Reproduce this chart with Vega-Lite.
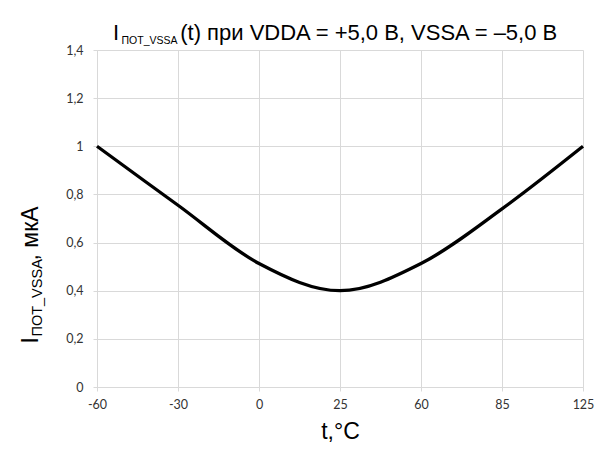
{
  "$schema": "https://vega.github.io/schema/vega-lite/v6.json",
  "width": 486,
  "height": 337,
  "autosize": {"type": "none"},
  "padding": {"left": 97, "top": 50, "right": 16, "bottom": 70},
  "background": "white",
  "config": {
    "locale": {"number": {"decimal": ",", "thousands": " ", "grouping": [3], "currency": ["", ""]}},
    "view": {"stroke": null},
    "font": "Liberation Sans"
  },
  "title": {
    "text": "I\u00a0\u00a0\u00a0\u00a0\u00a0\u00a0\u00a0\u00a0\u00a0\u00a0(t) при VDDA = +5,0 В, VSSA = –5,0 В",
    "anchor": "start",
    "frame": "group",
    "dx": 16,
    "fontSize": 22,
    "fontWeight": "normal",
    "offset": -10,
    "color": "#000000"
  },
  "data": {"values": [
    {"t": -60, "i": 1.0},
    {"t": -30, "i": 0.755},
    {"t": 0, "i": 0.513},
    {"t": 25, "i": 0.4},
    {"t": 60, "i": 0.513},
    {"t": 85, "i": 0.74},
    {"t": 125, "i": 1.0}
  ]},
  "layer": [
    {
      "mark": {"type": "line", "interpolate": "cardinal", "color": "#000000", "strokeWidth": 3.3},
      "encoding": {
        "x": {
          "field": "t", "type": "ordinal", "sort": null,
          "scale": {"type": "point", "padding": 0},
          "axis": {
            "title": "t,°C", "titleFontSize": 23, "titleFontWeight": "normal", "titleColor": "#000000", "titlePadding": 10,
            "labelAngle": 0, "labelFont": "Lato", "labelFontSize": 12.5, "labelColor": "#333333", "labelPadding": 7,
            "grid": true, "gridColor": "#d9d9d9", "domainColor": "#d9d9d9", "tickColor": "#d9d9d9", "tickSize": 4
          }
        },
        "y": {
          "field": "i", "type": "quantitative",
          "scale": {"domain": [0, 1.4]},
          "axis": {
            "title": "I\u00a0\u00a0\u00a0\u00a0\u00a0\u00a0\u00a0\u00a0\u00a0\u00a0\u00a0\u00a0, мкА",
            "titleFontSize": 23, "titleFontWeight": "normal", "titleColor": "#000000",
            "titleAngle": -90, "titleAlign": "left", "titleBaseline": "alphabetic",
            "titleX": -60, "titleY": 293,
            "values": [0, 0.2, 0.4, 0.6, 0.8, 1, 1.2, 1.4], "format": ".1~f",
            "labelFont": "Lato", "labelFontSize": 12.5, "labelColor": "#333333", "labelPadding": 10,
            "grid": true, "gridColor": "#d9d9d9", "domainColor": "#d9d9d9", "tickColor": "#d9d9d9", "tickSize": 4
          }
        }
      }
    },
    {
      "mark": {"type": "line", "interpolate": "cardinal", "strokeOpacity": 0},
      "encoding": {
        "x": {
          "field": "t", "type": "ordinal", "sort": null,
          "scale": {"type": "point", "padding": 0},
          "axis": {
            "orient": "top",
            "title": "ПОТ_VSSA",
            "titleFontSize": 10.5, "titleFontWeight": "normal", "titleColor": "#000000",
            "titleAngle": 0, "titleAlign": "left", "titleBaseline": "alphabetic",
            "titleX": 24, "titleY": -7,
            "labels": false, "ticks": false, "domain": false, "grid": false
          }
        },
        "y": {
          "field": "i", "type": "quantitative",
          "scale": {"domain": [0, 1.4]},
          "axis": {
            "orient": "left",
            "title": "ПОТ_VSSA",
            "titleFontSize": 14.5, "titleFontWeight": "normal", "titleColor": "#000000",
            "titleAngle": -90, "titleAlign": "left", "titleBaseline": "alphabetic",
            "titleX": -56, "titleY": 286,
            "labels": false, "ticks": false, "domain": false, "grid": false
          }
        }
      }
    }
  ],
  "resolve": {"scale": {"x": "independent", "y": "independent"}, "axis": {"x": "independent", "y": "independent"}}
}
